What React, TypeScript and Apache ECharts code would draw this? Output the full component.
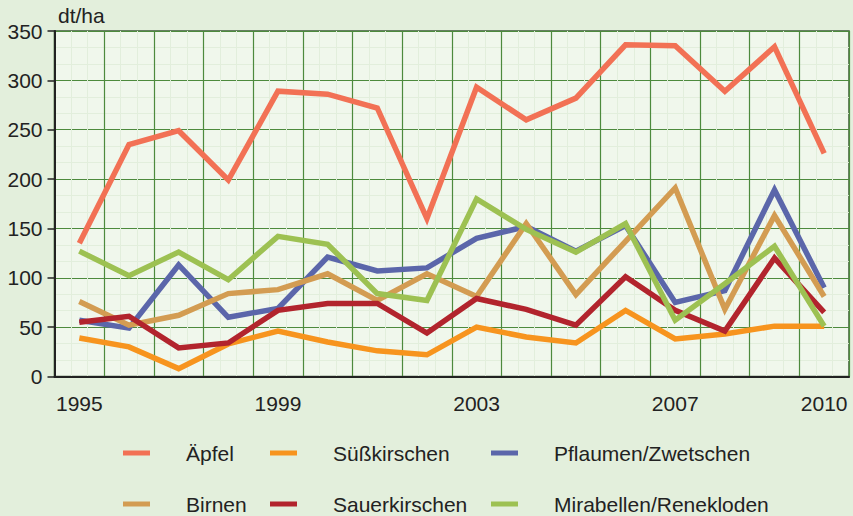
import React, { useEffect, useRef } from "react";
import * as echarts from "echarts";

const years = ["1995","1996","1997","1998","1999","2000","2001","2002","2003","2004","2005","2006","2007","2008","2009","2010"];
const shownYearIdx = [0, 4, 8, 12, 15];

const aepfel = [135, 235, 249, 199, 289, 286, 272, 160, 293, 260, 282, 336, 335, 289, 334, 226];
const suesskirschen = [39, 30, 8, 33, 46, 35, 26, 22, 50, 40, 34, 67, 38, 43, 51, 51];
const pflaumen = [57, 49, 113, 60, 69, 121, 107, 110, 140, 152, 127, 153, 75, 87, 189, 90];
const birnen = [76, 52, 62, 84, 88, 104, 77, 104, 81, 155, 83, 137, 191, 68, 163, 81];
const sauerkirschen = [55, 61, 29, 34, 67, 74, 74, 44, 79, 68, 52, 101, 67, 46, 120, 65];
const mirabellen = [127, 102, 126, 98, 142, 134, 84, 77, 180, 149, 126, 155, 57, 94, 132, 51];

const seriesDefs = [
  { name: "Äpfel", data: aepfel, color: "#f27155" },
  { name: "Süßkirschen", data: suesskirschen, color: "#f7941e" },
  { name: "Pflaumen/Zwetschen", data: pflaumen, color: "#5b66aa" },
  { name: "Birnen", data: birnen, color: "#d39c52" },
  { name: "Sauerkirschen", data: sauerkirschen, color: "#b2242d" },
  { name: "Mirabellen/Renekloden", data: mirabellen, color: "#9dc152" },
];

const legendPos = [
  { left: 123, top: 441 },
  { left: 270, top: 441 },
  { left: 491, top: 441 },
  { left: 123, top: 492 },
  { left: 270, top: 492 },
  { left: 491, top: 492 },
];

const FONT = "'Liberation Sans', Arial, sans-serif";

export default function App() {
  const ref = useRef<HTMLDivElement>(null);
  useEffect(() => {
    if (!ref.current) return;
    const chart = echarts.init(ref.current, null, { renderer: "svg" });
    chart.setOption({
      animation: false,
      backgroundColor: "#e3efdc",
      textStyle: { fontFamily: FONT },
      grid: {
        left: 54.5,
        right: 4,
        top: 31,
        bottom: 139.5,
        show: true,
        backgroundColor: "#f0f7ec",
        borderColor: "#3e5a38",
        borderWidth: 1.5,
      },
      graphic: [
        {
          type: "text",
          left: 58,
          top: 5,
          style: { text: "dt/ha", fontSize: 21, fontFamily: FONT, fill: "#222" },
        },
      ],
      legend: seriesDefs.map((s, i) => ({
        data: [s.name],
        left: legendPos[i].left,
        top: legendPos[i].top,
        padding: 0,
        icon: "rect",
        itemWidth: 27,
        itemHeight: 5,
        selectedMode: false,
        textStyle: {
          fontSize: 21,
          fontFamily: FONT,
          color: "#222",
          lineHeight: 24,
          padding: [0, 0, 0, 31],
        },
      })),
      xAxis: [
        {
          type: "category",
          data: years,
          boundaryGap: true,
          axisLine: { show: true, lineStyle: { color: "#222", width: 2 } },
          axisTick: { show: false },
          axisLabel: {
            interval: (idx: number) => shownYearIdx.includes(idx),
            fontSize: 21,
            color: "#222",
            fontFamily: FONT,
            margin: 16,
          },
          splitLine: { show: true, interval: 0, lineStyle: { color: "#4d8a3d", width: 1.2 } },
        },
        {
          type: "value",
          min: 0,
          max: 16,
          interval: 1,
          show: true,
          position: "top",
          axisLine: { show: false },
          axisTick: { show: false },
          axisLabel: { show: false },
          splitLine: { show: false },
          minorTick: { show: false, splitNumber: 3 },
          minorSplitLine: { show: true, lineStyle: { color: "#e2eedc", width: 1 } },
        },
      ],
      yAxis: {
        type: "value",
        min: 0,
        max: 350,
        interval: 50,
        axisLine: { show: true, lineStyle: { color: "#222", width: 2 } },
        axisTick: { show: true, length: 7, lineStyle: { color: "#222", width: 1.5 } },
        axisLabel: { fontSize: 21, color: "#222", fontFamily: FONT, margin: 12 },
        splitLine: { show: true, lineStyle: { color: "#4d8a3d", width: 1.2 } },
        minorTick: { show: false, splitNumber: 3 },
        minorSplitLine: { show: true, lineStyle: { color: "#e2eedc", width: 1 } },
      },
      series: seriesDefs.map((s) => ({
        name: s.name,
        type: "line",
        xAxisIndex: 0,
        data: s.data,
        symbol: "none",
        color: s.color,
        itemStyle: { color: s.color },
        lineStyle: { color: s.color, width: 5.5, join: "miter" },
      })),
    });
    return () => chart.dispose();
  }, []);
  return <div ref={ref} style={{ width: 853, height: 516, position: "absolute", left: 0, top: 0 }} />;
}
